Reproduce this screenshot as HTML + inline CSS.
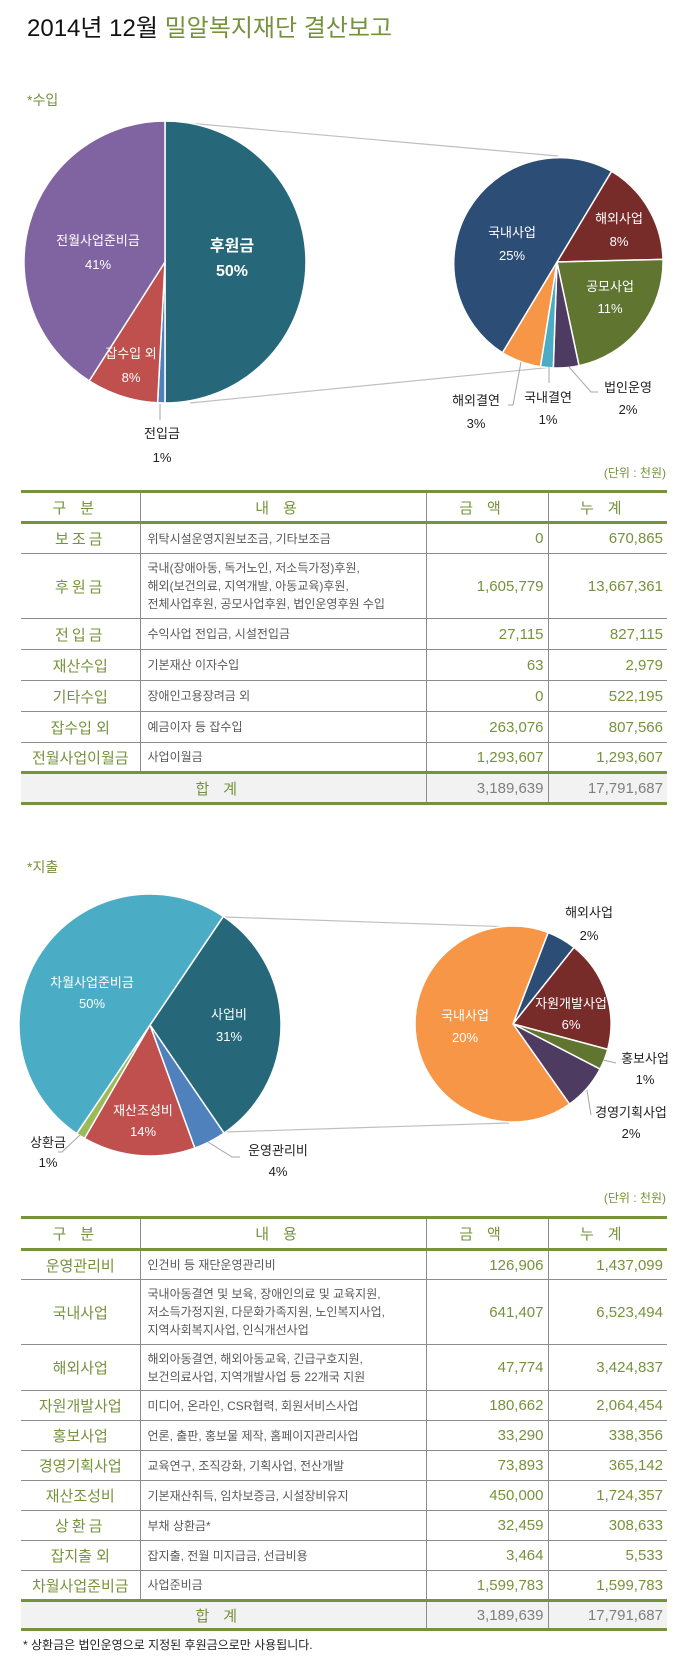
<!DOCTYPE html>
<html><head><meta charset="utf-8">
<style>
body{margin:0;background:#fff;}
#w{position:relative;width:691px;height:1672px;overflow:hidden;font-family:"Liberation Sans","Noto Sans CJK KR","NanumGothic",sans-serif;}
.t{position:absolute;white-space:nowrap;}
table{position:absolute;left:21px;width:646px;border-collapse:collapse;table-layout:fixed;}
td{padding:0;border:1px solid #8c8c8c;border-left:none;border-right:none;}
td+td{border-left:1px solid #8c8c8c;}
td.h{color:#76923c;font-size:15px;text-align:center;letter-spacing:14px;}
td.k{color:#76923c;font-size:15px;text-align:center;}
td.c{color:#595959;font-size:12px;padding-left:7px;line-height:18px;}
td.n{color:#76923c;font-size:15px;text-align:right;padding-right:4px;}
td.s{color:#76923c;font-size:15px;text-align:right;padding-right:4px;}
tr.top td{border-top:3px solid #76923c;border-bottom:3px solid #76923c;}
tr.tot td{border-top:3px solid #76923c;border-bottom:3px solid #76923c;background:#f2f2f2;}
tr.tot td.n,tr.tot td.s{color:#7f7f7f;}
</style></head><body><div id="w">
<div class="t" style="left:27px;top:8px;font-size:24px;color:#111;">2014년 12월 <span style="color:#76923c">밀알복지재단 결산보고</span></div>
<div class="t" style="left:27px;top:90px;font-size:14px;color:#76923c;">*수입</div>

<svg width="691" height="1672" style="position:absolute;left:0;top:0" font-family="Liberation Sans, Noto Sans CJK KR, sans-serif">
<g stroke="#bfbfbf" stroke-width="1.2"><line x1="165" y1="121" x2="558" y2="156"/><line x1="190" y1="403" x2="554" y2="367"/>
<line x1="224" y1="917" x2="514" y2="927"/><line x1="224" y1="1132" x2="509" y2="1123"/></g>
<g stroke="#fff" stroke-width="1.5">
<path d="M165,262 L165,121 A141,141 0 0 1 165,403Z" fill="#26687a"/>
<path d="M165,262 L165,403 A141,141 0 0 1 157.6,402.8Z" fill="#4f81bd"/>
<path d="M165,262 L157.6,402.8 A141,141 0 0 1 89.2,380.9Z" fill="#c0504d"/>
<path d="M165,262 L89.2,380.9 A141,141 0 0 1 165,121Z" fill="#8064a2"/>
<path d="M557,262 L611.6,171.2 A106,106 0 0 1 663,259.4Z" fill="#772c2a"/>
<path d="M557,262 L663,259.4 A106,106 0 0 1 579,365.7Z" fill="#5f7530"/>
<path d="M557,262 L579,365.7 A106,106 0 0 1 553.3,367.9Z" fill="#4d3b62"/>
<path d="M557,262 L553.3,367.9 A106,106 0 0 1 540.4,366.7Z" fill="#4bacc6"/>
<path d="M557,262 L540.4,366.7 A106,106 0 0 1 502.4,352.8Z" fill="#f79646"/>
<path d="M557,262 L502.4,352.8 A106,106 0 0 1 611.6,171.2Z" fill="#2c4d75"/>
<path d="M150,1025 L223.3,916.4 A131,131 0 0 1 224,1133.1Z" fill="#26687a"/>
<path d="M150,1025 L224,1133.1 A131,131 0 0 1 194.8,1148.1Z" fill="#4f81bd"/>
<path d="M150,1025 L194.8,1148.1 A131,131 0 0 1 84.5,1138.4Z" fill="#c0504d"/>
<path d="M150,1025 L84.5,1138.4 A131,131 0 0 1 76.7,1133.6Z" fill="#9bbb59"/>
<path d="M150,1025 L76.7,1133.6 A131,131 0 0 1 223.3,916.4Z" fill="#4bacc6"/>
<path d="M513,1024 L548.1,932.5 A98,98 0 0 1 574.1,947.4Z" fill="#2c4d75"/>
<path d="M513,1024 L574.1,947.4 A98,98 0 0 1 607.7,1049.4Z" fill="#772c2a"/>
<path d="M513,1024 L607.7,1049.4 A98,98 0 0 1 600,1069.1Z" fill="#5f7530"/>
<path d="M513,1024 L600,1069.1 A98,98 0 0 1 569.5,1104.1Z" fill="#4d3b62"/>
<path d="M513,1024 L569.5,1104.1 A98,98 0 1 1 548.1,932.5Z" fill="#f79646"/>
</g>
<g stroke="#a6a6a6" stroke-width="1" fill="none">
<polyline points="160,404 160,420"/><polyline points="521,362 513,405 508,405"/><polyline points="549,367 549,383"/>
<polyline points="569,367 591,392 598,392"/>
<polyline points="80,1135 62,1152 58,1152"/><polyline points="208,1142 232,1157 240,1157"/>
<polyline points="603,1060 616,1063"/><polyline points="587,1090 591,1115"/>
</g>
<g fill="#fff" font-size="13" text-anchor="middle">
<text x="98" y="245">전월사업준비금</text><text x="98" y="269">41%</text>
<text x="232" y="251" font-size="16" font-weight="bold">후원금</text><text x="232" y="276" font-size="16" font-weight="bold">50%</text>
<text x="131" y="358">잡수입 외</text><text x="131" y="382">8%</text>
<text x="512" y="237">국내사업</text><text x="512" y="260">25%</text>
<text x="619" y="223">해외사업</text><text x="619" y="246">8%</text>
<text x="610" y="291">공모사업</text><text x="610" y="313">11%</text>
<text x="92" y="987">차월사업준비금</text><text x="92" y="1008">50%</text>
<text x="229" y="1019">사업비</text><text x="229" y="1041">31%</text>
<text x="143" y="1115">재산조성비</text><text x="143" y="1136">14%</text>
<text x="571" y="1008">자원개발사업</text><text x="571" y="1029">6%</text>
<text x="465" y="1020">국내사업</text><text x="465" y="1042">20%</text>
</g>
<g fill="#222" font-size="13" text-anchor="middle">
<text x="162" y="438">전입금</text><text x="162" y="462">1%</text>
<text x="476" y="405">해외결연</text><text x="476" y="428">3%</text>
<text x="548" y="402">국내결연</text><text x="548" y="424">1%</text>
<text x="628" y="392">법인운영</text><text x="628" y="414">2%</text>
<text x="589" y="917">해외사업</text><text x="589" y="940">2%</text>
<text x="645" y="1063">홍보사업</text><text x="645" y="1084">1%</text>
<text x="631" y="1117">경영기획사업</text><text x="631" y="1138">2%</text>
<text x="48" y="1147">상환금</text><text x="48" y="1167">1%</text>
<text x="278" y="1155">운영관리비</text><text x="278" y="1176">4%</text>
</g>
<g fill="#76923c" font-size="12" text-anchor="end"><text x="666" y="477">(단위 : 천원)</text><text x="666" y="1202">(단위 : 천원)</text></g>
</svg>

<div class="t" style="left:27px;top:857px;font-size:14px;color:#76923c;">*지출</div>

<table style="top:490px">
<colgroup><col style="width:119px"><col style="width:286px"><col style="width:122px"><col style="width:119px"></colgroup>
<tr class="top" style="height:31px"><td class="h">구분</td><td class="h">내용</td><td class="h">금액</td><td class="h">누계</td></tr>
<tr style="height:31px"><td class="k" style="letter-spacing:3px">보조금</td><td class="c">위탁시설운영지원보조금, 기타보조금</td><td class="n">0</td><td class="s">670,865</td></tr>
<tr style="height:65px"><td class="k" style="letter-spacing:3px">후원금</td><td class="c">국내(장애아동, 독거노인, 저소득가정)후원,<br>해외(보건의료, 지역개발, 아동교육)후원,<br>전체사업후원, 공모사업후원, 법인운영후원 수입</td><td class="n">1,605,779</td><td class="s">13,667,361</td></tr>
<tr style="height:31px"><td class="k" style="letter-spacing:3px">전입금</td><td class="c">수익사업 전입금, 시설전입금</td><td class="n">27,115</td><td class="s">827,115</td></tr>
<tr style="height:31px"><td class="k">재산수입</td><td class="c">기본재산 이자수입</td><td class="n">63</td><td class="s">2,979</td></tr>
<tr style="height:31px"><td class="k">기타수입</td><td class="c">장애인고용장려금 외</td><td class="n">0</td><td class="s">522,195</td></tr>
<tr style="height:31px"><td class="k">잡수입 외</td><td class="c">예금이자 등 잡수입</td><td class="n">263,076</td><td class="s">807,566</td></tr>
<tr style="height:30px"><td class="k">전월사업이월금</td><td class="c">사업이월금</td><td class="n">1,293,607</td><td class="s">1,293,607</td></tr>
<tr class="tot" style="height:31px"><td colspan="2" class="h">합계</td><td class="n">3,189,639</td><td class="s">17,791,687</td></tr>
</table>

<table style="top:1216px">
<colgroup><col style="width:119px"><col style="width:286px"><col style="width:122px"><col style="width:119px"></colgroup>
<tr class="top" style="height:32px"><td class="h">구분</td><td class="h">내용</td><td class="h">금액</td><td class="h">누계</td></tr>
<tr style="height:30px"><td class="k">운영관리비</td><td class="c">인건비 등 재단운영관리비</td><td class="n">126,906</td><td class="s">1,437,099</td></tr>
<tr style="height:65px"><td class="k">국내사업</td><td class="c">국내아동결연 및 보육, 장애인의료 및 교육지원,<br>저소득가정지원, 다문화가족지원, 노인복지사업,<br>지역사회복지사업, 인식개선사업</td><td class="n">641,407</td><td class="s">6,523,494</td></tr>
<tr style="height:46px"><td class="k">해외사업</td><td class="c">해외아동결연, 해외아동교육, 긴급구호지원,<br>보건의료사업, 지역개발사업 등 22개국 지원</td><td class="n">47,774</td><td class="s">3,424,837</td></tr>
<tr style="height:30px"><td class="k">자원개발사업</td><td class="c">미디어, 온라인, CSR협력, 회원서비스사업</td><td class="n">180,662</td><td class="s">2,064,454</td></tr>
<tr style="height:30px"><td class="k">홍보사업</td><td class="c">언론, 출판, 홍보물 제작, 홈페이지관리사업</td><td class="n">33,290</td><td class="s">338,356</td></tr>
<tr style="height:30px"><td class="k">경영기획사업</td><td class="c">교육연구, 조직강화, 기획사업, 전산개발</td><td class="n">73,893</td><td class="s">365,142</td></tr>
<tr style="height:30px"><td class="k">재산조성비</td><td class="c">기본재산취득, 임차보증금, 시설장비유지</td><td class="n">450,000</td><td class="s">1,724,357</td></tr>
<tr style="height:30px"><td class="k" style="letter-spacing:3px">상환금</td><td class="c">부채 상환금*</td><td class="n">32,459</td><td class="s">308,633</td></tr>
<tr style="height:30px"><td class="k">잡지출 외</td><td class="c">잡지출, 전월 미지급금, 선급비용</td><td class="n">3,464</td><td class="s">5,533</td></tr>
<tr style="height:30px"><td class="k">차월사업준비금</td><td class="c">사업준비금</td><td class="n">1,599,783</td><td class="s">1,599,783</td></tr>
<tr class="tot" style="height:29px"><td colspan="2" class="h">합계</td><td class="n">3,189,639</td><td class="s">17,791,687</td></tr>
</table>
<div class="t" style="left:23px;top:1636px;font-size:12px;color:#222;">* 상환금은 법인운영으로 지정된 후원금으로만 사용됩니다.</div>
</div></body></html>
